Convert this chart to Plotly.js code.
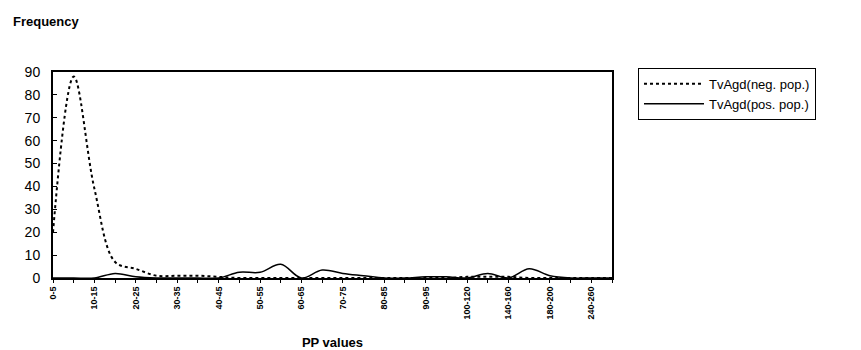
<!DOCTYPE html>
<html>
<head>
<meta charset="utf-8">
<script src="https://cdn.plot.ly/plotly-3.0.1.min.js"></script>
<style>html,body{margin:0;padding:0;background:#fff;}#chart{width:861px;height:350px;}</style>
</head>
<body>
<div id="chart"></div>
<script>
const categories = ["0-5","5-10","10-15","15-20","20-25","25-30","30-35","35-40","40-45","45-50",
  "50-55","55-60","60-65","65-70","70-75","75-80","80-85","85-90","90-95","95-100",
  "100-120","120-140","140-160","160-180","180-200","200-240","240-260","260-300"];
const tickLabels = ["0-5","","10-15","","20-25","","30-35","","40-45","",
  "50-55","","60-65","","70-75","","80-85","","90-95","",
  "100-120","","140-160","","180-200","","240-260",""];
const negPop = [20, 88, 39, 7, 4, 1, 1, 1, 0.5, 0, 0, 0, 0, 0, 0, 0, 0, 0, 0, 0, 0.5, 0.5, 0.5, 0, 0, 0, 0, 0];
const posPop = [0, 0, 0, 2, 0.5, 0, 0, 0, 0, 2.5, 2.5, 6, 0, 3.5, 2, 1, 0, 0, 0.5, 0.5, 0, 2, 0, 4, 1, 0, 0, 0];
const seriesNames = ["TvAgd(neg. pop.)", "TvAgd(pos. pop.)"];

const traces = [
  {x: categories, y: negPop, name: seriesNames[0], type: "scatter", mode: "lines",
   line: {color: "#000", width: 2, dash: "dot", shape: "spline", smoothing: 1}},
  {x: categories, y: posPop, name: seriesNames[1], type: "scatter", mode: "lines",
   line: {color: "#000", width: 1.5, shape: "spline", smoothing: 1}}
];

const layout = {
  width: 861, height: 350,
  margin: {l: 53, r: 249, t: 72, b: 72},
  paper_bgcolor: "#fff", plot_bgcolor: "#fff",
  font: {family: "Liberation Sans, Arial, sans-serif", color: "#000"},
  showlegend: true,
  legend: {x: 1.0465, y: 1.02, xanchor: "left", yanchor: "top",
    bordercolor: "#000", borderwidth: 1, bgcolor: "#fff",
    font: {size: 13, family: "Liberation Sans, Arial, sans-serif", color: "#000"},
    itemwidth: 60, tracegroupgap: 2},
  xaxis: {type: "category", range: [0, categories.length - 1],
    tickmode: "array", tickvals: categories, ticktext: tickLabels,
    tickangle: -90, tickfont: {size: 9, family: "Liberation Sans, Arial, sans-serif", weight: "bold"},
    ticks: "outside", ticklen: 3, tickcolor: "#000",
    showline: true, linecolor: "#000", linewidth: 2, mirror: true,
    showgrid: false, zeroline: false,
    title: {text: "<b>PP values</b>", font: {size: 13}, standoff: 20}},
  yaxis: {range: [0, 90], tickvals: [0,10,20,30,40,50,60,70,80,90],
    tickfont: {size: 14}, ticks: "inside", ticklen: 4, tickcolor: "#000",
    showline: true, linecolor: "#000", linewidth: 2, mirror: true,
    showgrid: false, zeroline: false, ticklabelstandoff: 8},
  annotations: [
    {text: "<b>Frequency</b>", xref: "paper", yref: "paper", x: -0.075, y: 1.243,
     xanchor: "left", yanchor: "middle", showarrow: false, font: {size: 13}}
  ]
};

Plotly.newPlot("chart", traces, layout, {displayModeBar: false, staticPlot: true});
</script>
</body>
</html>
